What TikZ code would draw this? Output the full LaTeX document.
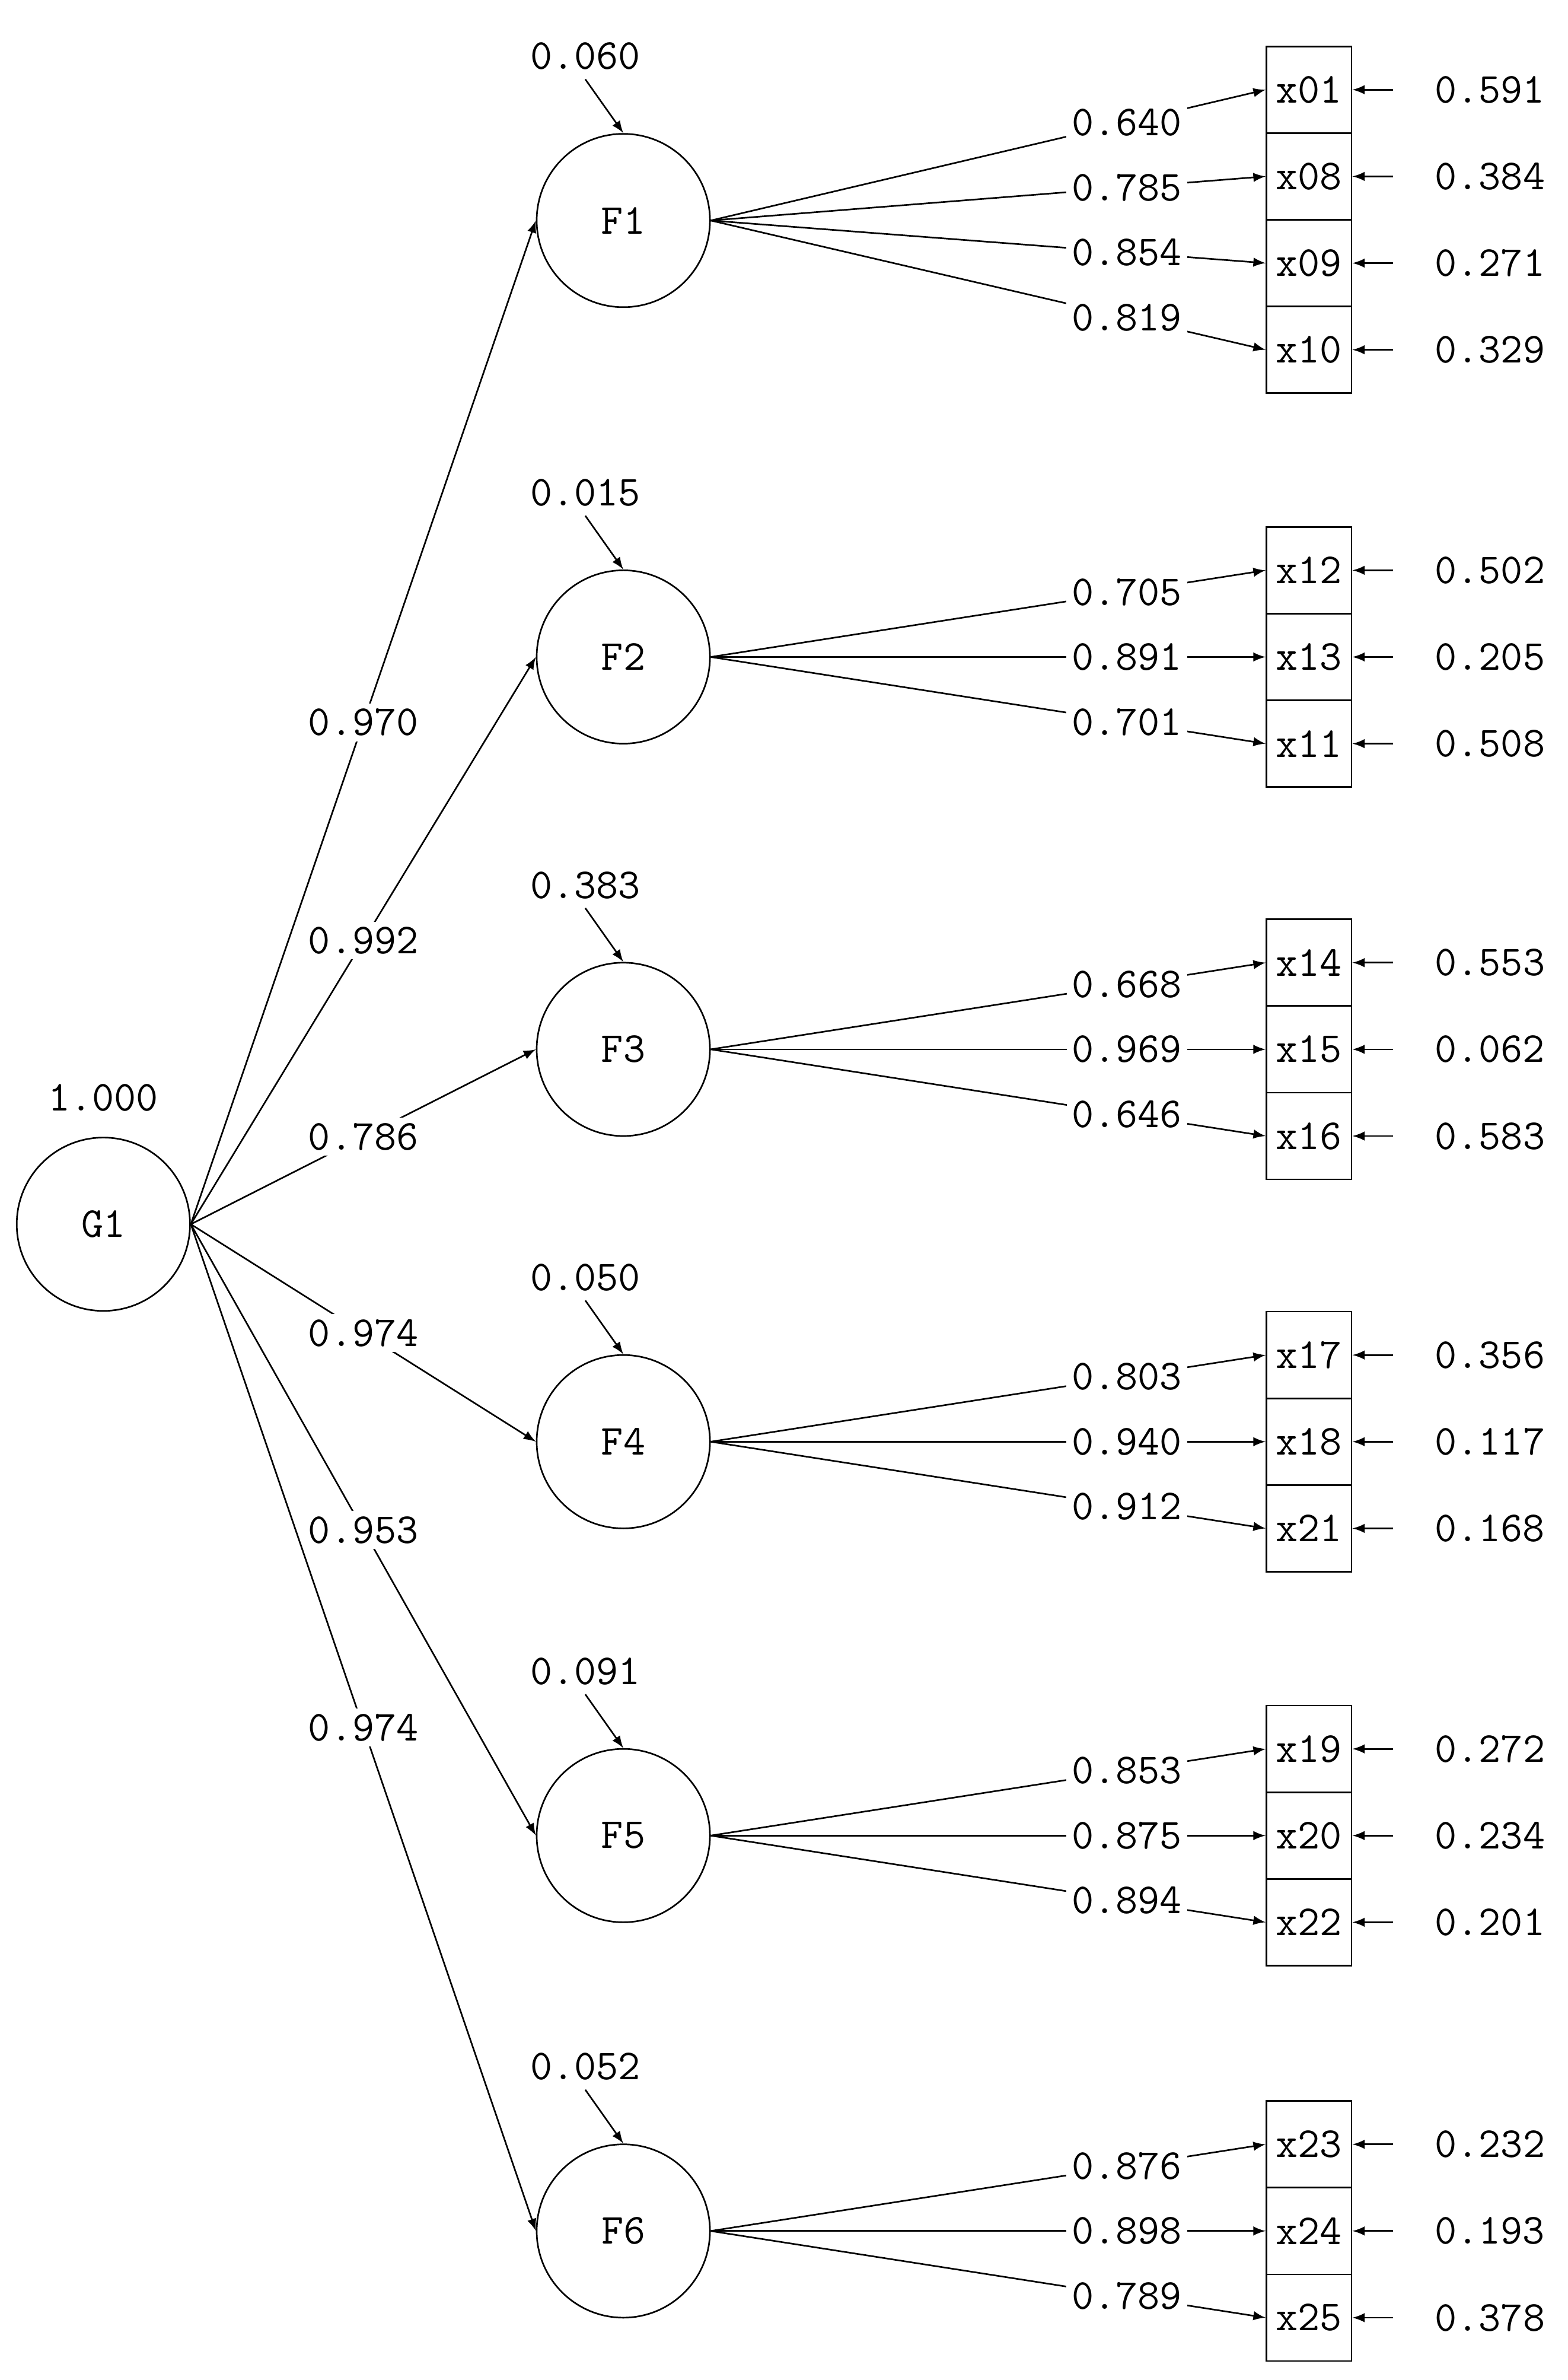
\documentclass[tikz,border=0pt]{standalone}
\usetikzlibrary{arrows}
\tikzstyle{arrow} = [semithick,->,>=latex]
\tikzstyle{latent} = [circle, draw=black, semithick, minimum size=2.28cm, inner sep=0pt]
\tikzstyle{manifest} = [rectangle, draw=black, semithick, minimum width=1.12cm, minimum height=1.14cm, inner sep=0pt]
\tikzstyle{coef} = [fill=white, inner sep=2pt]
\begin{document}
\begin{tikzpicture}[x=0.02cm, y=-0.02cm, font=\fontsize{16}{19}\selectfont\ttfamily]
\useasboundingbox (0,0) rectangle (1031,1565);
\node (g1) [latent] at (68,805) {G1};
\node (vg1) at (68,722) {1.000};
% first order factors
\foreach \f/\y/\v/\l in {1/145/0.060/0.970, 2/432/0.015/0.992, 3/690/0.383/0.786, 4/948/0.050/0.974, 5/1207/0.091/0.953, 6/1467/0.052/0.974} {
  \node (F\f) [latent] at (410,\y) {F\f};
  \node (v\f) at (385,\y-108) {\v};
  \draw [arrow] (v\f.south) -- (F\f.north);
  \draw [arrow] (g1.east) -- node[coef, pos=0.5] {\l} (F\f.west);
}
% indicators
\foreach \f/\x/\y/\l/\r in {1/01/59/0.640/0.591, 1/08/116/0.785/0.384, 1/09/173/0.854/0.271, 1/10/230/0.819/0.329,
  2/12/375/0.705/0.502, 2/13/432/0.891/0.205, 2/11/489/0.701/0.508,
  3/14/633/0.668/0.553, 3/15/690/0.969/0.062, 3/16/747/0.646/0.583,
  4/17/891/0.803/0.356, 4/18/948/0.940/0.117, 4/21/1005/0.912/0.168,
  5/19/1150/0.853/0.272, 5/20/1207/0.875/0.234, 5/22/1264/0.894/0.201,
  6/23/1410/0.876/0.232, 6/24/1467/0.898/0.193, 6/25/1524/0.789/0.378} {
  \node (x\x) [manifest] at (861,\y) {x\x};
  \node (e\x) [inner xsep=0.54cm] at (980,\y) {\r};
  \draw [arrow] (e\x) -- (x\x);
  \draw [arrow] (F\f.east) -- node[coef, pos=0.75] {\l} (x\x.west);
}
\end{tikzpicture}
\end{document}
